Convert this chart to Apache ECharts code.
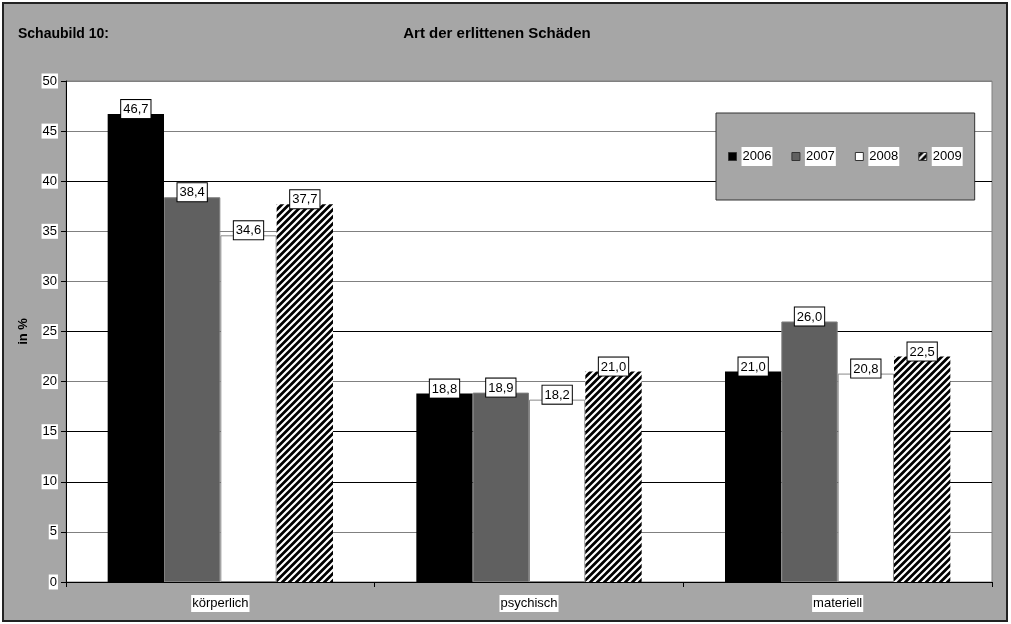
<!DOCTYPE html>
<html>
<head>
<meta charset="utf-8">
<script src="https://cdn.jsdelivr.net/npm/echarts@6/dist/echarts.min.js"></script>
<style>
  html, body { margin: 0; padding: 0; background: #fff; }
  #chart { width: 1011px; height: 624px; }
</style>
</head>
<body>
<div id="chart"></div>
<script>
const categories = ['körperlich', 'psychisch', 'materiell']
const years = ['2006', '2007', '2008', '2009']
const values2006 = [46.7, 18.8, 21.0]
const values2007 = [38.4, 18.9, 26.0]
const values2008 = [34.6, 18.2, 20.8]
const values2009 = [37.7, 21.0, 22.5]
const yTicks = [0, 5, 10, 15, 20, 25, 30, 35, 40, 45, 50]

// diagonal hatch for 2009
function hatch() {
  const s = 7
  const c = document.createElement('canvas')
  c.width = s; c.height = s
  const ctx = c.getContext('2d')
  ctx.fillStyle = '#000'
  ctx.fillRect(0, 0, s, s)
  ctx.strokeStyle = '#fff'
  ctx.lineWidth = 2.2
  ctx.beginPath()
  ctx.moveTo(-1, s + 1); ctx.lineTo(s + 1, -1)
  ctx.moveTo(-1, 1); ctx.lineTo(1, -1)
  ctx.moveTo(s - 1, s + 1); ctx.lineTo(s + 1, s - 1)
  ctx.stroke()
  return c
}

const chart = echarts.init(document.getElementById('chart'))
const font = 'Arial, "Liberation Sans", sans-serif'

const label = {
  show: true,
  position: 'top',
  distance: -4,
  formatter: p => p.value.toFixed(1).replace('.', ','),
  color: '#000',
  fontFamily: font,
  fontSize: 13,
  backgroundColor: '#fff',
  borderColor: '#000',
  borderWidth: 1,
  padding: [3, 2, 2, 2]
}

const styles = [
  { color: '#000' },
  { color: '#606060', borderColor: '#808080', borderWidth: 1 },
  { color: '#fff', borderColor: '#888', borderWidth: 1 },
  { color: { image: hatch(), repeat: 'repeat' } }
]
const data = [values2006, values2007, values2008, values2009]

const option = {
  animation: false,
  graphic: [{
    type: 'rect',
    z: -10,
    shape: { x: 3, y: 3, width: 1004, height: 618 },
    style: { fill: '#a6a6a6', stroke: '#222', lineWidth: 2 }
  }],
  title: [
    { text: 'Schaubild 10:', left: 13, top: 22,
      textStyle: { fontFamily: font, fontSize: 14, fontWeight: 'bold', color: '#000' } },
    { text: 'Art der erlittenen Schäden', left: 492, top: 21, textAlign: 'center',
      textStyle: { fontFamily: font, fontSize: 15, fontWeight: 'bold', color: '#000' } }
  ],
  legend: {
    data: years,
    left: 716,
    top: 113,
    padding: [34, 12],
    icon: 'rect',
    itemWidth: 8,
    itemHeight: 8,
    itemGap: 19,
    backgroundColor: '#a6a6a6',
    borderColor: '#333',
    borderWidth: 1,
    itemStyle: { borderColor: '#333', borderWidth: 1 },
    textStyle: { fontFamily: font, fontSize: 13, color: '#000', backgroundColor: '#fff', padding: [3, 1] }
  },
  grid: {
    left: 66, right: 19, top: 81, bottom: 42,
    show: true, backgroundColor: '#fff', borderColor: '#808080', borderWidth: 1
  },
  xAxis: {
    type: 'category',
    data: categories,
    axisLine: { lineStyle: { color: '#000', width: 1 } },
    axisTick: { show: true, length: 5, lineStyle: { color: '#000' } },
    axisLabel: {
      margin: 13, color: '#000', fontFamily: font, fontSize: 13,
      backgroundColor: '#fff', padding: [2, 1]
    }
  },
  yAxis: {
    type: 'value',
    min: yTicks[0],
    max: yTicks[yTicks.length - 1],
    interval: 5,
    name: 'in %',
    nameLocation: 'middle',
    nameGap: 36,
    nameRotate: 90,
    nameTextStyle: { fontFamily: font, fontSize: 13, fontWeight: 'bold', color: '#000' },
    axisLine: { show: true, lineStyle: { color: '#000' } },
    axisTick: { show: true, length: 5, lineStyle: { color: '#000' } },
    axisLabel: {
      margin: 8, color: '#000', fontFamily: font, fontSize: 13,
      backgroundColor: '#fff', padding: [1, 1]
    },
    splitLine: {
      lineStyle: {
        color: ['#000', '#808080', '#000', '#000', '#808080', '#000', '#808080', '#808080', '#000', '#808080', '#808080'],
        width: 1
      }
    }
  },
  series: years.map((y, i) => ({
    name: y,
    type: 'bar',
    data: data[i],
    barGap: '0%',
    barCategoryGap: '27%',
    itemStyle: styles[i],
    label: label
  }))
}

chart.setOption(option)
</script>
</body>
</html>
